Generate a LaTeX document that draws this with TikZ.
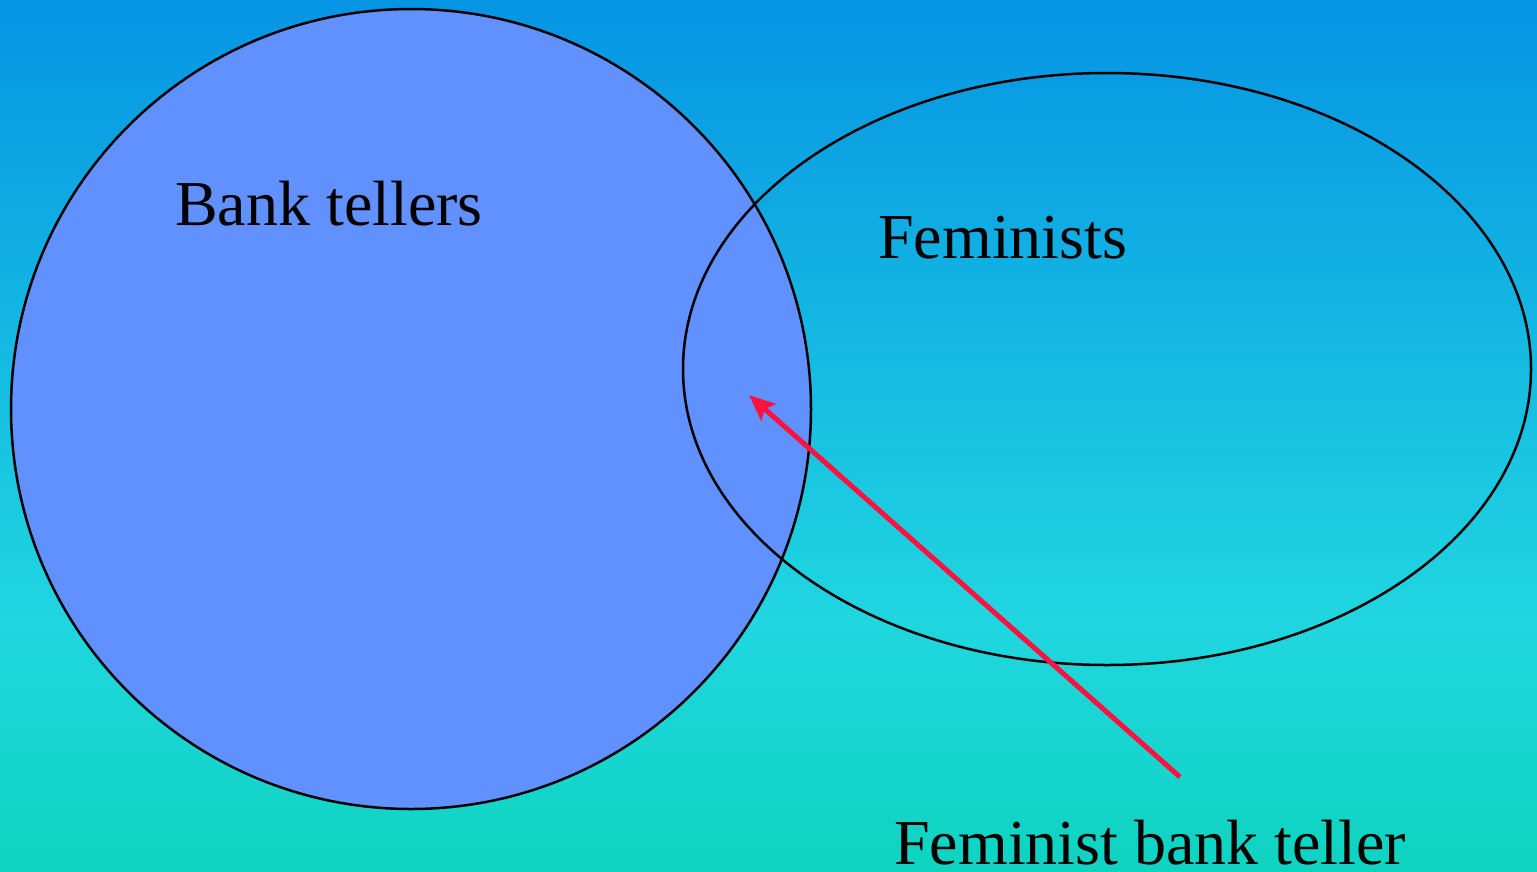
\documentclass[tikz,border=0pt]{standalone}
\usepackage{fontspec}
\setmainfont{Liberation Serif}
\usetikzlibrary{shapes.geometric,arrows.meta}
\definecolor{bgtop}{HTML}{0694E4}
\definecolor{bgmid}{HTML}{20D6E0}
\definecolor{bgbot}{HTML}{0ED4C0}
\definecolor{setblue}{HTML}{6190FF}
\definecolor{arrowred}{HTML}{FF1240}
\tikzset{
  setline/.style={draw=black, line width=2.5pt},
  label/.style={font=\fontsize{64}{70}\selectfont, anchor=base west, inner sep=0pt, text=black},
  pointer/.style={draw=arrowred, line width=5pt, -{Stealth[length=26pt,width=22pt,inset=5pt]}}
}
\begin{document}
\begin{tikzpicture}[x=1pt,y=-1pt]
\useasboundingbox (0,0) rectangle (1537,871);
\clip (0,0) rectangle (1537,871);
\shade[top color=bgtop, bottom color=bgmid] (0,0) rectangle (1537,620);
\shade[top color=bgmid, bottom color=bgbot] (0,620) rectangle (1537,871);
\node[circle, setline, fill=setblue, minimum size=800pt, inner sep=0pt] (bank) at (411,409) {};
\node[ellipse, setline, minimum width=848pt, minimum height=592pt, inner sep=0pt] (fem) at (1107,369) {};
\coordinate (tail) at (1180,777);
\coordinate (head) at (749,395);
\draw[pointer] (tail) -- (head);
\node[label] (banklabel) at (175,225) {Bank tellers};
\node[label] (femlabel) at (878,258) {Feminists};
\node[label] (bothlabel) at (894,864) {Feminist bank teller};
\end{tikzpicture}
\end{document}
